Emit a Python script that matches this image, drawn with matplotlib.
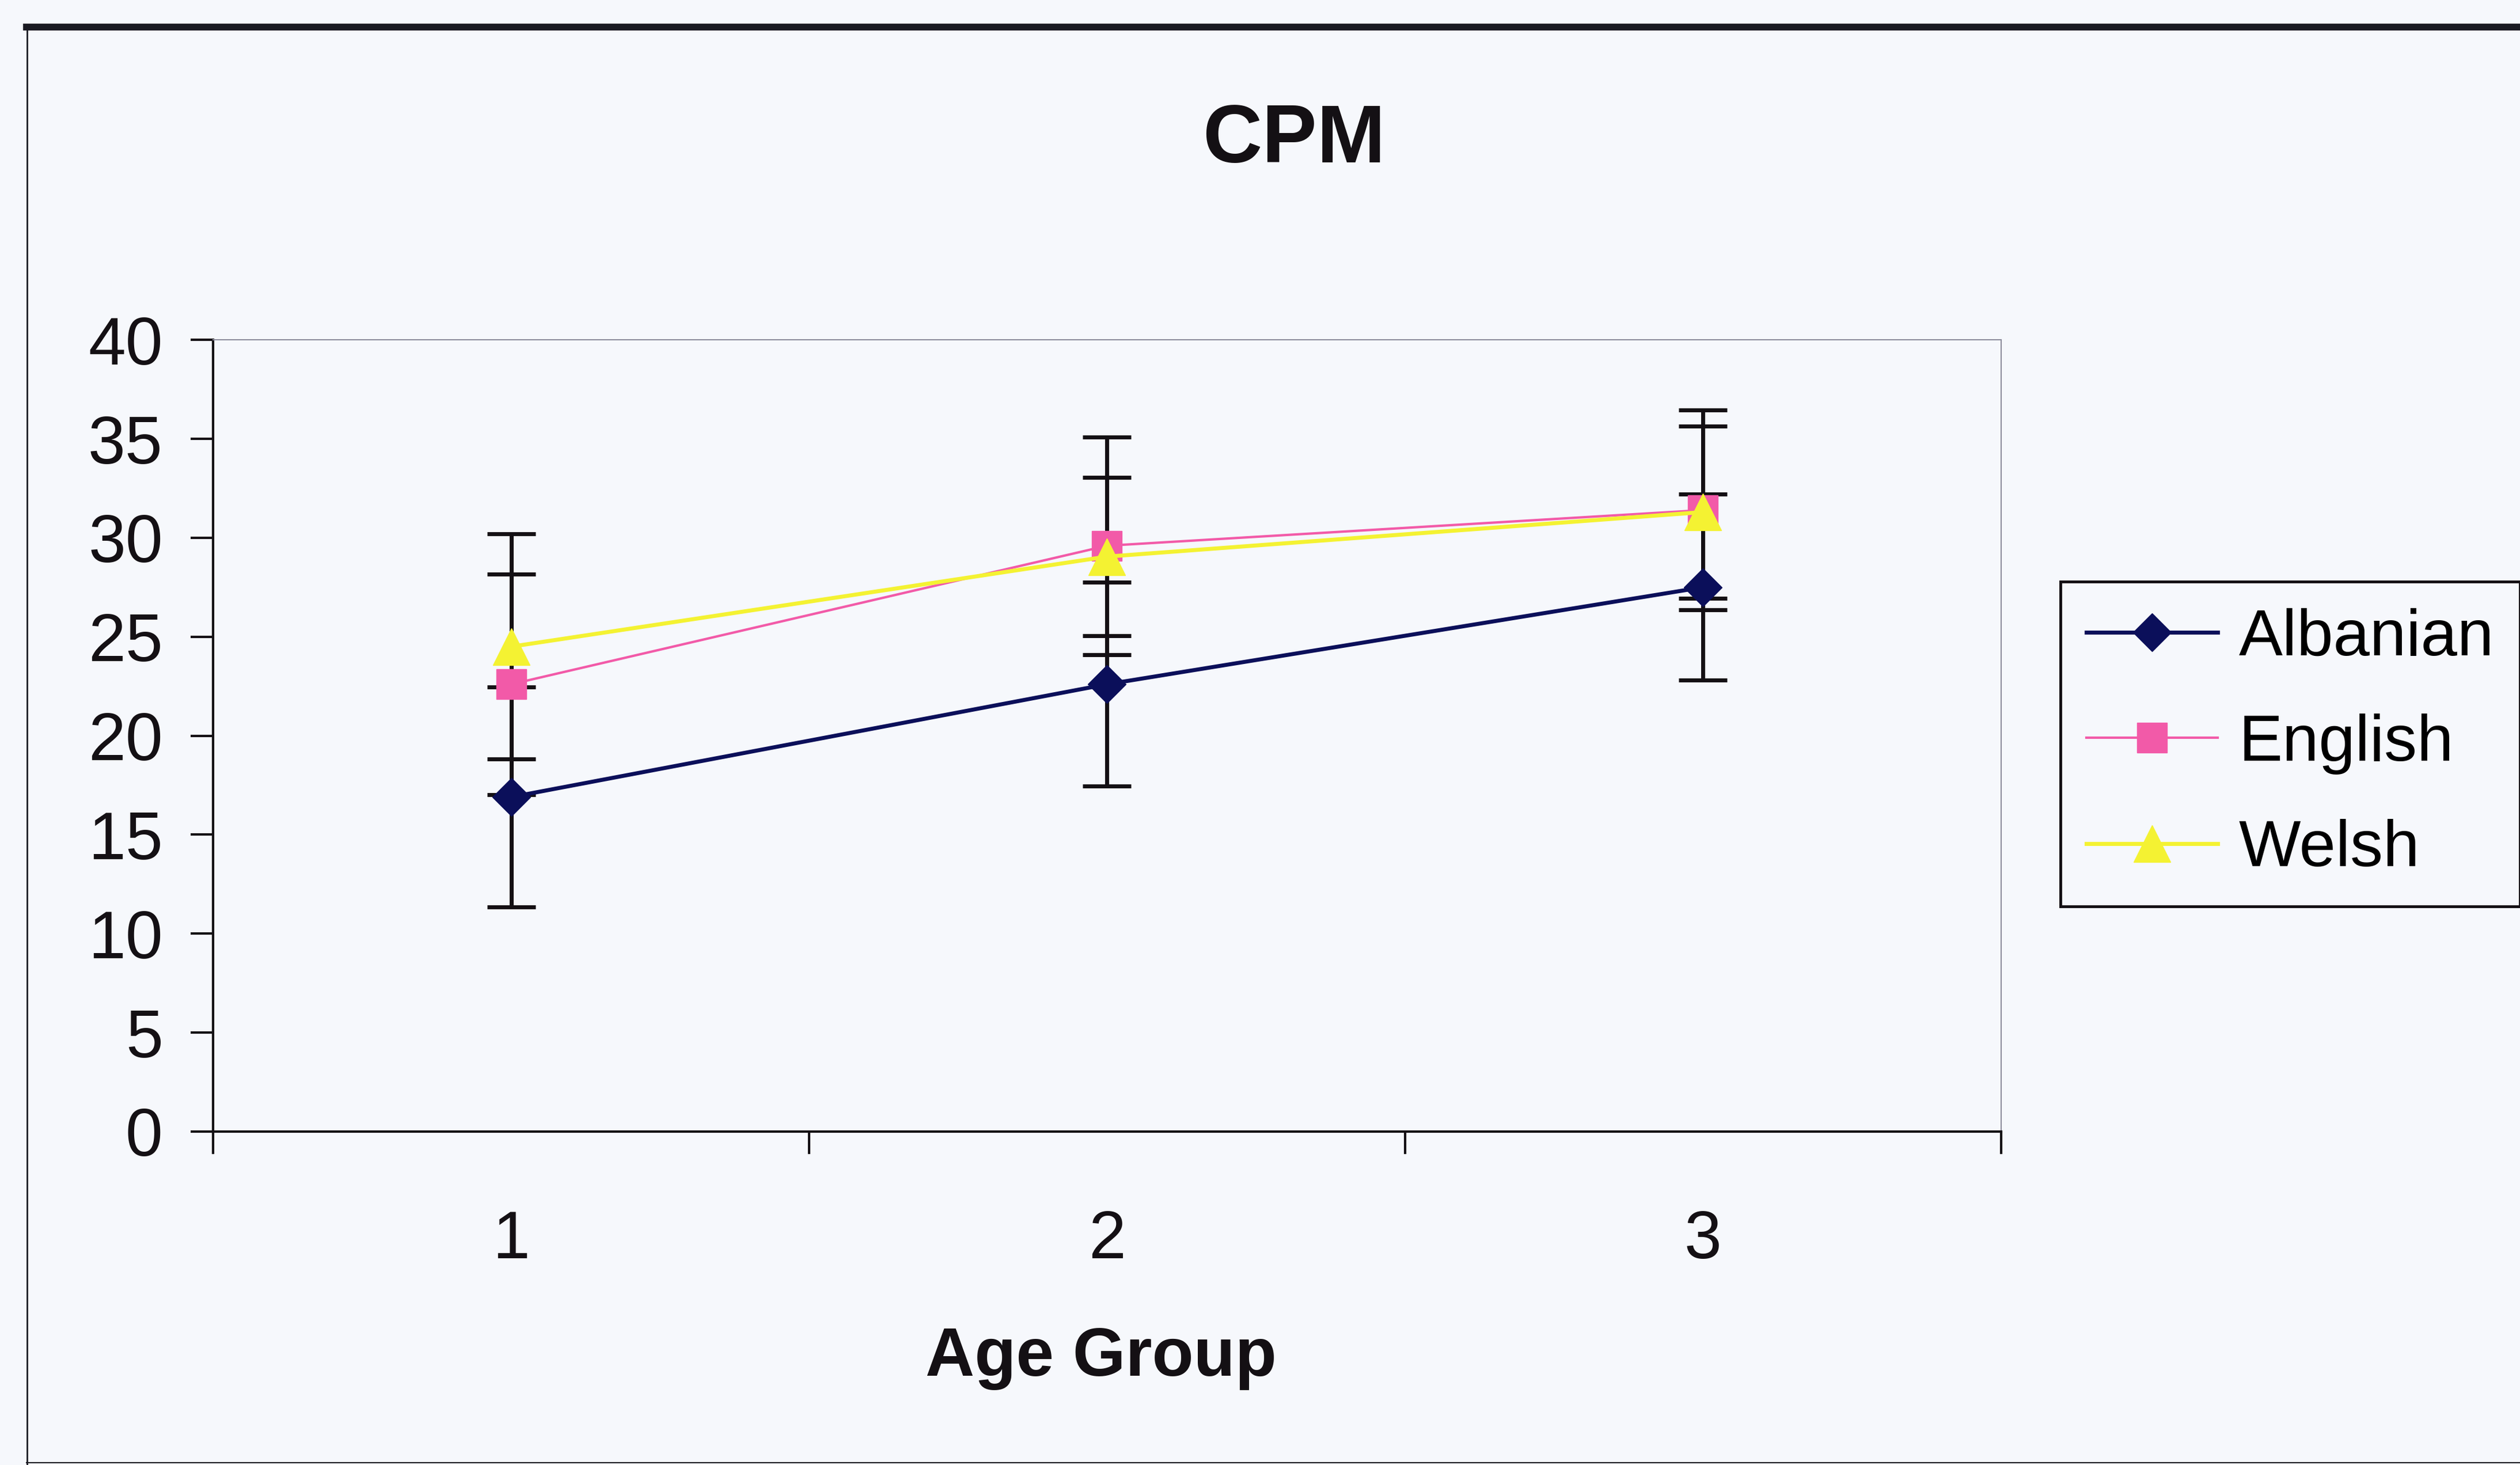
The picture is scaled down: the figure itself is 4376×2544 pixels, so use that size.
import matplotlib.pyplot as plt
from matplotlib.lines import Line2D

plt.rcParams['font.family'] = ['Liberation Sans', 'DejaVu Sans']

# mean CPM score per age group, with error bar half-widths
age_groups = [1, 2, 3]
albanian = [16.9, 22.6, 27.5]
albanian_err = [5.55, 5.15, 4.7]
english = [22.6, 29.6, 31.4]
english_err = [5.57, 5.5, 5.05]
welsh = [24.5, 29.05, 31.3]
welsh_err = [5.69, 4.0, 4.35]

series = [
    ('Albanian', albanian, albanian_err, '#0b0f5a', 'D', 34, 5.0),
    ('English', english, english_err, '#f25aa8', 's', 38, 3.0),
    ('Welsh', welsh, welsh_err, '#f4f232', '^', 46, 5.0),
]

bg = '#f6f8fc'
fig = plt.figure(figsize=(43.76, 25.44), dpi=100, facecolor=bg)
ax = fig.add_axes([0.0846, 0.2276, 0.794 - 0.0846, 0.768 - 0.2276])
ax.set_facecolor(bg)

# error bars sit underneath every line and marker
for name, vals, errs, color, marker, ms, lw in series:
    ax.errorbar(age_groups, vals, yerr=errs, fmt='none', ecolor='#141014',
                elinewidth=5, capsize=30, capthick=5, zorder=2)

for i, (name, vals, errs, color, marker, ms, lw) in enumerate(series):
    ax.plot(age_groups, vals, color=color, lw=lw, marker=marker, markersize=ms,
            markerfacecolor=color, markeredgecolor=color, label=name, zorder=3 + i)

ax.set_xlim(0.5, 3.5)
ax.set_ylim(0, 40)
ax.set_yticks(range(0, 41, 5))
ax.set_xticks([0.5, 1.5, 2.5, 3.5])
ax.set_xticklabels([])
ax.set_xticks(age_groups, minor=True)
ax.set_xticklabels([str(a) for a in age_groups], minor=True)

ax.tick_params(axis='y', direction='out', length=28, width=3, pad=35,
               labelsize=84, colors='#141014')
ax.tick_params(axis='x', which='major', direction='out', length=28, width=3,
               colors='#141014')
ax.tick_params(axis='x', which='minor', length=0, pad=97, labelsize=84,
               labelcolor='#141014')

for side in ('left', 'bottom'):
    ax.spines[side].set_color('#141014')
    ax.spines[side].set_linewidth(3)
for side in ('top', 'right'):
    ax.spines[side].set_color('#8c8c9c')
    ax.spines[side].set_linewidth(1.5)

fig.text(0.5135, 0.889, 'CPM', ha='center', va='baseline', fontsize=103,
         fontweight='bold', color='#141014')
fig.text(0.437, 0.061, 'Age Group', ha='center', va='baseline', fontsize=85,
         fontweight='bold', color='#141014')

leg = fig.legend(loc='upper left', bbox_to_anchor=(0.8176, 0.603), borderaxespad=0,
                 fontsize=82, handlelength=2.0, handletextpad=0.32,
                 labelspacing=0.68, borderpad=0.4, numpoints=1,
                 fancybox=False, framealpha=1, facecolor=bg, edgecolor='#141014')
leg.get_frame().set_linewidth(3.5)

# outer chart frame
fig.add_artist(Line2D([0.0105, 1.0], [0.9815, 0.9815], color='#1a1a22', lw=8.5))
fig.add_artist(Line2D([0.0108, 0.0108], [0.0, 0.9815], color='#1a1a22', lw=2))
fig.add_artist(Line2D([0.0105, 1.0], [0.0015, 0.0015], color='#1a1a22', lw=1.5))

fig.savefig('out.png', dpi=100, facecolor=bg)
